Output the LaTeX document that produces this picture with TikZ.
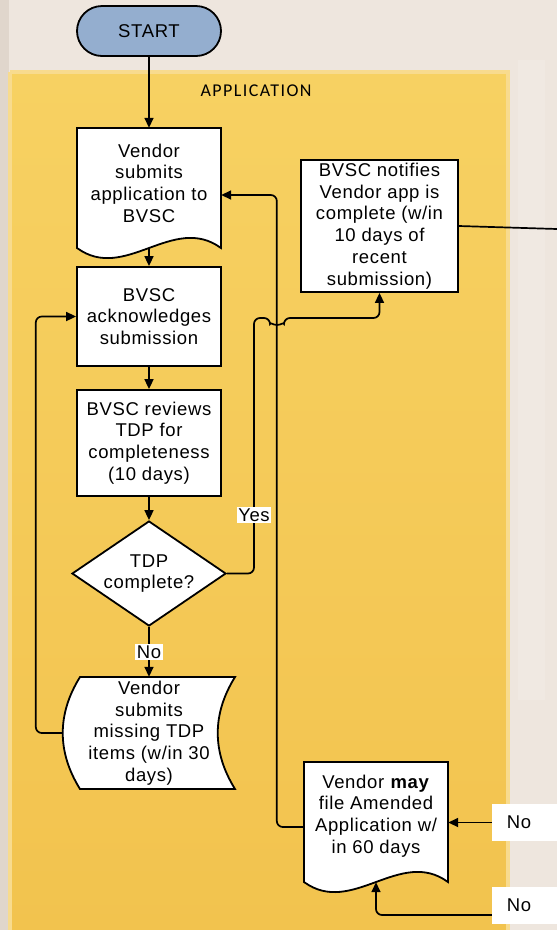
\documentclass[tikz,border=0pt]{standalone}
\usepackage{fontspec}
\setmainfont{Liberation Sans}[LetterSpace=3.5]
\newfontfamily\appfont{Carlito}[LetterSpace=8]
\usetikzlibrary{arrows.meta,calc,shapes.geometric}
\definecolor{bgbeige}{HTML}{EEE6DE}
\definecolor{bgdark}{HTML}{E0D6CC}
\definecolor{panelA}{HTML}{F7D162}
\definecolor{panelB}{HTML}{F2C34E}
\definecolor{panelEdge}{HTML}{F8DB8E}
\definecolor{startblue}{HTML}{94AECF}
\begin{document}
\begin{tikzpicture}[x=1pt,y=-1pt,
  txt/.style={font=\fontsize{18.5}{21.7}\selectfont, align=center, inner sep=0pt},
  shapeln/.style={draw=black, line width=1.8pt, fill=white},
  procbox/.style={txt, shapeln},
  conn/.style={draw=black, line width=1.7pt, -{Triangle[length=10pt,width=9pt]}},
  plainln/.style={draw=black, line width=1.7pt},
  lbl/.style={font=\fontsize{18.5}{21.7}\selectfont, fill=white, inner xsep=1.5pt, inner ysep=2pt},
  nobox/.style={font=\fontsize{18.5}{21.7}\selectfont, fill=white, minimum width=65pt, minimum height=37pt, inner sep=0pt}]
\useasboundingbox (0,0) rectangle (557,930);
% background
\fill[bgbeige] (0,0) rectangle (557,930);
\fill[bgdark] (0,0) rectangle (9,930);
\fill[white, opacity=0.12] (518,60) rectangle (545,700);
% panel
\shade[top color=panelA, bottom color=panelB] (10,72) rectangle (508,935);
\draw[panelEdge, line width=4pt] (10,72) -- (508,72) -- (508,935) (10,72) -- (10,935);
\node[font=\appfont\fontsize{18}{20}\selectfont, inner sep=0pt] (apptitle) at (256,91) {APPLICATION};
% custom shapes
\path[shapeln] (77,128) -- (221,128) -- (221,248) .. controls (173,213) and (125,283) .. (77,248) -- cycle;
\path[shapeln] (304,762) -- (448,762) -- (448,882) .. controls (400,847) and (352,917) .. (304,882) -- cycle;
\path[shapeln] (80,677) -- (235,677) .. controls (212,714) and (212,752) .. (235,789) -- (80,789) .. controls (57,752) and (57,714) .. (80,677) -- cycle;
% nodes
\node[procbox, fill=startblue, rounded corners=25pt, minimum width=144pt, minimum height=50pt] (start) at (149,31) {START};
\node[txt, minimum width=144pt, minimum height=110pt] (doc1) at (149,183) {Vendor\\submits\\application to\\BVSC};
\node[procbox, minimum width=144pt, minimum height=99pt] (box2) at (149,316.5) {BVSC\\acknowledges\\submission};
\node[procbox, minimum width=144pt, minimum height=106pt] (box3) at (149,443) {BVSC reviews\\TDP for\\completeness\\(10 days)};
\node[procbox, diamond, shape aspect=1.47, minimum width=154pt, minimum height=105pt] (dia) at (149,573.5) {TDP\\complete?};
\node[txt, minimum width=172pt, minimum height=112pt] (tape) at (149,733) {Vendor\\submits\\missing TDP\\items (w/in 30\\days)};
\node[procbox, minimum width=157pt, minimum height=132pt] (notify) at (379.5,226) {BVSC notifies\\Vendor app is\\complete (w/in\\10 days of\\recent\\submission)};
\node[txt, minimum width=144pt, minimum height=108pt] (vmay) at (376,816) {Vendor \textbf{may}\\file Amended\\Application w/\\in 60 days};
\node[nobox] (no1) at (524.5,822.5) {\kern-11pt No};
\node[nobox] (no2) at (524.5,905.5) {\kern-11pt No};
\coordinate (rightend) at (557,229);
\coordinate (hop) at (254,318);
% connectors
\draw[conn] (start.south) -- (doc1.north);
\draw[conn] ($(doc1.south)+(0,10)$) -- (box2.north);
\draw[conn] (box2.south) -- (box3.north);
\draw[conn] (box3.south) -- (dia.north);
\draw[conn] (dia.south) -- (tape.north);
\draw[conn, rounded corners=6pt] (tape.west) -- ++(-27,0) |- (box2.west);
\draw[conn, rounded corners=6pt] ($(vmay.west)+(0,11)$) -- ++(-27,0) |- ($(doc1.east)+(0,12)$);
\draw[conn, rounded corners=6pt] (dia.east) -| (hop) -- (270,318) arc[start angle=180, end angle=360, radius=7pt] -- (hop -| notify.south) -- (notify.south);
\draw[plainln] (notify.east) -- (rightend);
\draw[conn] (no1.west) -- (no1.west -| vmay.east);
\draw[conn, rounded corners=6pt] ($(no2.west)+(0,9.5)$) -| ($(vmay.south)+(0,12)$);
% labels
\node[lbl] (yes) at (254,515) {Yes};
\node[lbl] (nolbl) at (149,652) {No};
\end{tikzpicture}
\end{document}
